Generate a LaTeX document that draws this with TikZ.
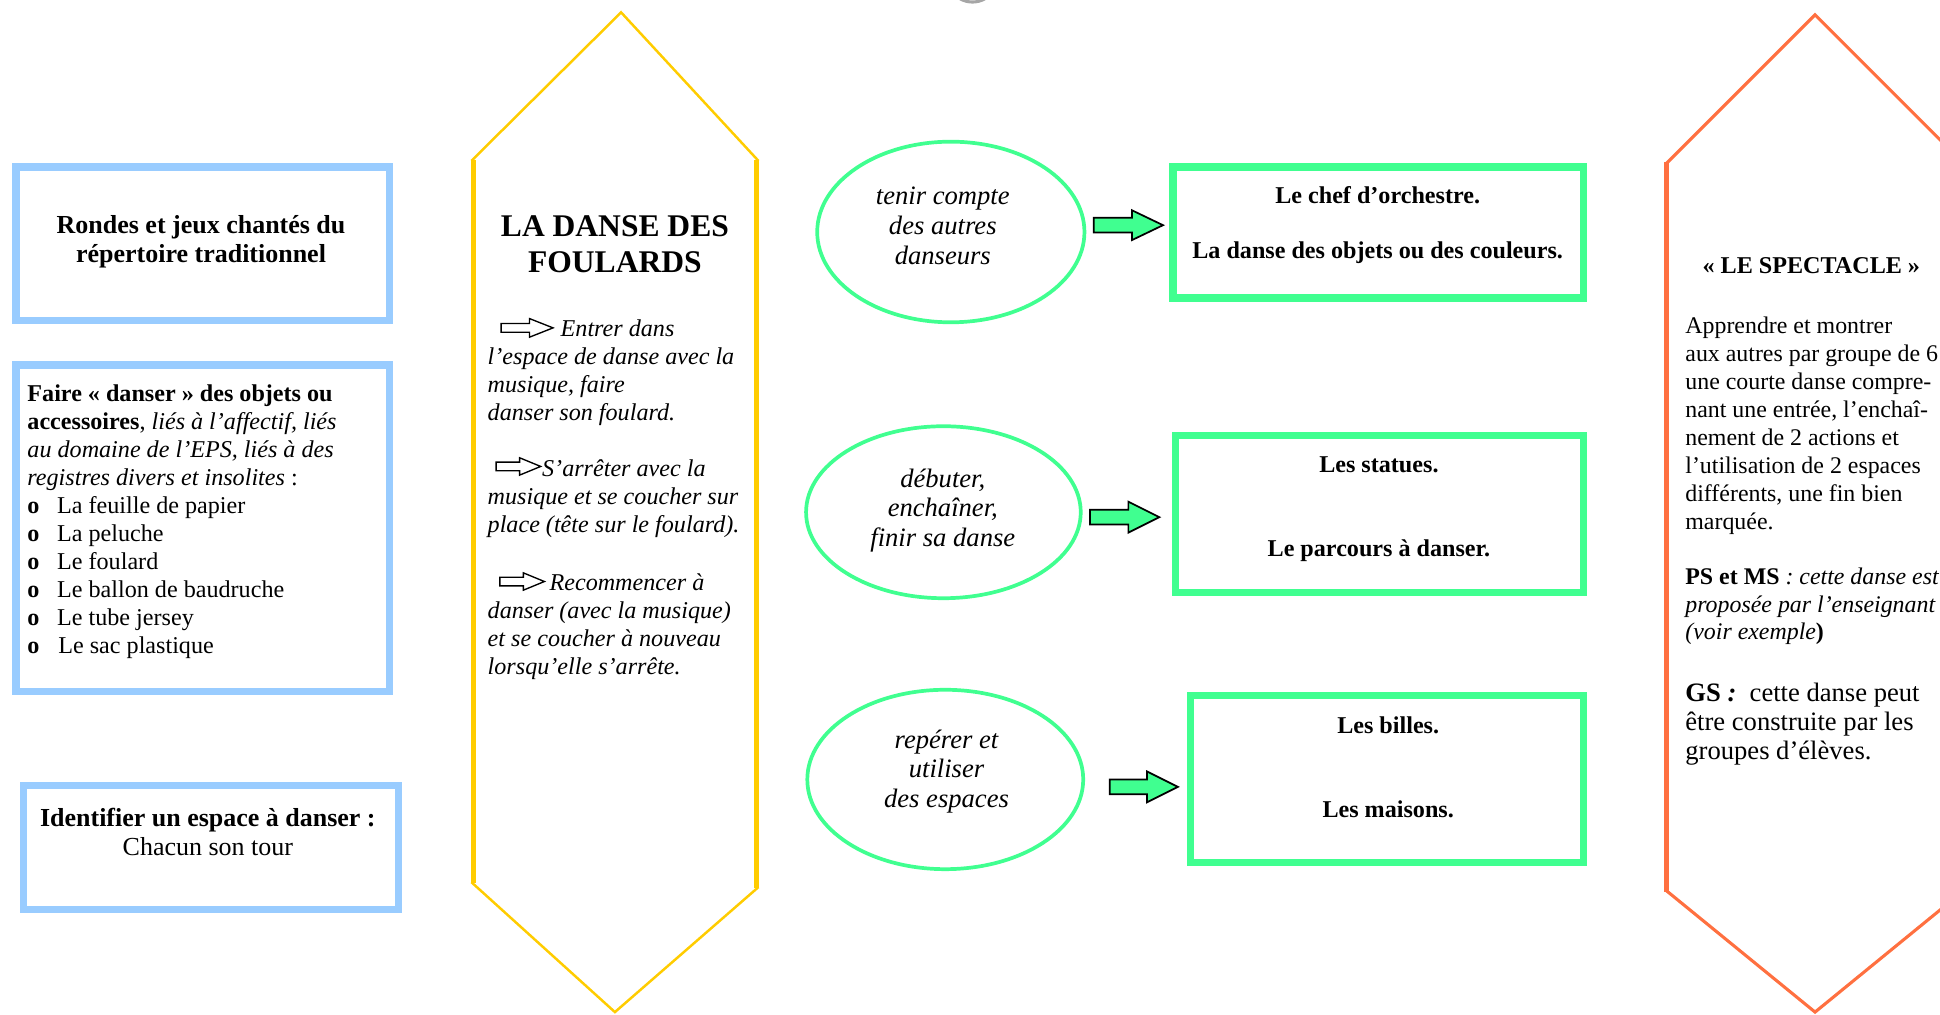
\documentclass[tikz,border=0pt]{standalone}
\usepackage{fontspec}
\setmainfont{Liberation Serif}
\usetikzlibrary{shapes.geometric}
\definecolor{bluec}{RGB}{153,204,255}
\definecolor{yelc}{RGB}{255,204,0}
\definecolor{grnc}{RGB}{64,255,144}
\definecolor{orac}{RGB}{255,112,64}
\newcommand{\barrow}[7]{%
  \filldraw[#1] (#2,#3-#6) -- (#5,#3-#6) -- (#5,#3-#7) -- (#4,#3) -- (#5,#3+#7) -- (#5,#3+#6) -- (#2,#3+#6) -- cycle;}
\newcommand{\bul}{\makebox[24pt][l]{\textbf{o}}}
\begin{document}
\begin{tikzpicture}[x=1pt,y=-1pt,
  bluebox/.style={draw=bluec, line width=6pt, inner sep=0pt, rectangle},
  greenbox/.style={draw=grnc, line width=6pt, inner sep=0pt, rectangle},
  greenell/.style={draw=grnc, line width=3pt, inner sep=0pt, ellipse},
  greenarrow/.style={fill=grnc, draw=black, line width=1.4pt, line join=miter},
  whitearrow/.style={fill=white, draw=black, line width=1.1pt, line join=miter},
  txt/.style={inner sep=0pt, font=\fontsize{19.5}{22.6}\selectfont},
  boldtxt/.style={inner sep=0pt, align=center, font=\bfseries\fontsize{21}{24}\selectfont},
  itxt/.style={inner sep=0pt, align=left, anchor=west, font=\itshape\fontsize{19.5}{22.7}\selectfont},
  elltxt/.style={inner sep=0pt, align=center, font=\itshape\fontsize{21.5}{24}\selectfont},
  recttxt/.style={inner sep=0pt, align=center, font=\bfseries\fontsize{19.5}{22.6}\selectfont},
]
\useasboundingbox (0,0) rectangle (1568,820);
\clip (0,0) rectangle (1568,820);

% top grey fragment
\draw[gray!70, line width=2.5pt] (776,-1) .. controls (782,2.5) and (790,2.5) .. (796,-1);

% ---- left blue boxes
\node[bluebox, minimum width=302, minimum height=124] (b1) at (164,197) {};
\node[boldtxt] (b1t) at (162.5,195.5) {Rondes et jeux chantés du\\répertoire traditionnel};

\node[bluebox, minimum width=302, minimum height=264] (b2) at (164,427) {};
\node[txt, align=left, anchor=west] (b2t) at (22,421.5) {%
\textbf{Faire «~danser~» des objets ou}\\
\textbf{accessoires}, \textit{liés à l’affectif, liés}\\
\textit{au domaine de l’EPS, liés à des}\\
\textit{registres divers et insolites} :\\
\bul La feuille de papier\\
\bul La peluche\\
\bul Le foulard\\
\bul Le ballon de baudruche\\
\bul Le tube jersey\\
\bul\hspace*{1pt}Le sac plastique};

\node[bluebox, minimum width=303, minimum height=100] (b3) at (170.5,685) {};
\node[inner sep=0pt, align=center, font=\fontsize{21}{24}\selectfont] (b3t) at (168,672.5) {\textbf{Identifier un espace à danser :}\\Chacun son tour};

% ---- yellow hexagon
\draw[yelc, line width=2pt] (381,130) -- (502,10) -- (613,130);
\draw[yelc, line width=2pt] (381,713) -- (497,818) -- (613,717);
\draw[yelc, line width=4pt] (382.5,129) -- (382.5,714);
\draw[yelc, line width=4pt] (611.5,129) -- (611.5,718);

\node[inner sep=0pt, align=center, font=\bfseries\fontsize{25.5}{29}\selectfont] (ytitle) at (497,197.5) {LA DANSE DES\\FOULARDS};
\barrow{whitearrow}{405}{265}{447}{428}{3.5}{7.5}
\node[itxt] (yp1) at (394,301.5) {\hspace*{59pt}Entrer dans\\l’espace de danse avec la\\musique, faire\\danser son foulard.};
\barrow{whitearrow}{401}{377}{437}{420}{3.5}{7}
\node[itxt] (yp2) at (394,403) {\hspace*{44pt}S’arrêter avec la\\musique et se coucher sur\\place (tête sur le foulard).};
\barrow{whitearrow}{404}{470}{440}{423}{3.5}{7}
\node[itxt] (yp3) at (394,506.5) {\hspace*{50pt}Recommencer à\\danser (avec la musique)\\et se coucher à nouveau\\lorsqu’elle s’arrête.};

% ---- ellipses
\node[greenell, minimum width=216, minimum height=146] (e1) at (768.5,187.5) {};
\node[elltxt] (e1t) at (762,182.5) {tenir compte\\des autres\\danseurs};
\node[greenell, minimum width=222, minimum height=139] (e2) at (762.5,414) {};
\node[elltxt] (e2t) at (762,412.5) {débuter,\\enchaîner,\\finir sa danse};
\node[greenell, minimum width=223, minimum height=145] (e3) at (764,630) {};
\node[elltxt] (e3t) at (765,623.5) {repérer et\\utiliser\\des espaces};

% ---- green block arrows
\barrow{greenarrow}{884}{182}{940}{915}{6}{12}
\barrow{greenarrow}{881}{418}{937}{912}{6}{12.5}
\barrow{greenarrow}{897}{636}{952}{927}{6}{12.5}

% ---- green rectangles
\node[greenbox, minimum width=332, minimum height=106] (r1) at (1114,188) {};
\node[recttxt] (r1t) at (1113.5,182) {Le chef d’orchestre.\\[22.4pt]La danse des objets ou des couleurs.};
\node[greenbox, minimum width=330, minimum height=127] (r2) at (1115,415.5) {};
\node[recttxt] (r2t) at (1114.5,411.5) {Les statues.\\[45.4pt]Le parcours à danser.};
\node[greenbox, minimum width=318, minimum height=135] (r3) at (1121,629.5) {};
\node[recttxt] (r3t) at (1122,620.5) {Les billes.\\[45.4pt]Les maisons.};

% ---- orange hexagon
\draw[orac, line width=2.5pt] (1347,132) -- (1467,12) -- (1587,132);
\draw[orac, line width=2.5pt] (1347,720) -- (1467,818) -- (1587,720);
\draw[orac, line width=4pt] (1347,131) -- (1347,721);

\node[inner sep=0pt, font=\bfseries\fontsize{19.5}{22.6}\selectfont] (otitle) at (1464,214.5) {«~LE SPECTACLE~»};
\node[inner sep=0pt, align=left, anchor=west, font=\fontsize{19.3}{22.6}\selectfont] (op1) at (1362,344) {Apprendre et montrer\\aux autres par groupe de 6\\une courte danse compre-\\nant une entrée, l’enchaî-\\nement de 2 actions et\\l’utilisation de 2 espaces\\différents, une fin bien\\marquée.};
\node[inner sep=0pt, align=left, anchor=west, font=\fontsize{19.3}{22.6}\selectfont] (op2) at (1362,490) {\textbf{PS et MS}\textit{ : cette danse est}\\\textit{proposée par l’enseignant}\\\textit{(voir exemple}\textbf{)}};
\node[inner sep=0pt, align=left, anchor=west, font=\fontsize{21.5}{23.5}\selectfont] (op3) at (1362,585.5) {\textbf{GS \textit{:}}~ cette danse peut\\être construite par les\\groupes d’élèves.};
\end{tikzpicture}
\end{document}
